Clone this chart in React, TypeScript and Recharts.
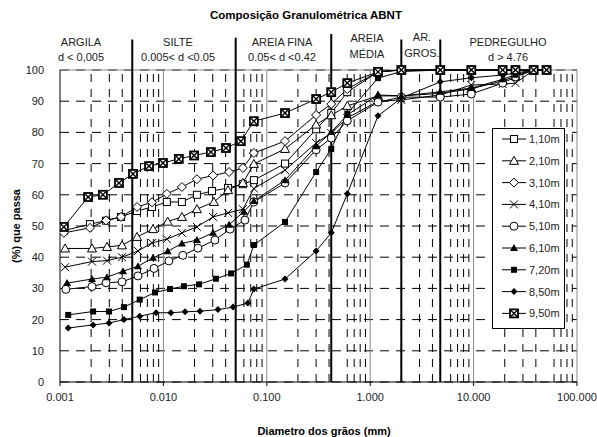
import React from 'react'
import { LineChart, Line, XAxis, YAxis, CartesianGrid, ReferenceLine } from 'recharts'

const FONT = '"Liberation Sans", Arial, sans-serif'

// sieve openings (mm), shared by every sample
const SIEVES = [0.075, 0.15, 0.3, 0.42, 0.6, 1.19, 2.0, 4.76, 9.5, 19.1, 25.4, 38.1, 50.8]

// hydrometer diameters (mm) and % passing, then % passing on the sieves
const D_110 = [0.00109, 0.00195, 0.00279, 0.00389, 0.00556, 0.00776, 0.0108, 0.0151, 0.0211, 0.0295, 0.0422, 0.0587]
const P_110 = [48.5, 50.6, 51.7, 52.9, 54.8, 56.1, 57.7, 57.7, 60.0, 61.2, 62.2, 63.4]
const S_110 = [64.7, 70.0, 81.0, 86.2, 92.9, 99.4, 100, 100, 100, 100, 100, 100, 100]

const D_210 = [0.00112, 0.00204, 0.00285, 0.00398, 0.00556, 0.00794, 0.011, 0.0151, 0.0211, 0.0308, 0.0422, 0.0587]
const P_210 = [42.8, 42.8, 43.3, 43.8, 46.5, 49.0, 51.4, 52.9, 55.4, 57.7, 61.5, 63.8]
const S_210 = [69.9, 74.7, 82.5, 85.5, 88.5, 91.7, 91.7, 92.5, 94.0, 96.5, 98.0, 100, 100]

const D_310 = [0.00109, 0.00195, 0.00279, 0.00389, 0.00556, 0.00776, 0.0108, 0.0151, 0.0211, 0.0302, 0.0432, 0.0587]
const P_310 = [47.8, 49.4, 51.8, 52.9, 56.1, 57.6, 60.3, 62.5, 65.0, 66.2, 67.3, 68.6]
const S_310 = [73.4, 77.2, 85.6, 89.1, 93.9, 99.4, 100, 100, 100, 100, 100, 100, 100]

const D_410 = [0.00112, 0.00204, 0.00285, 0.00398, 0.00568, 0.00776, 0.0108, 0.0151, 0.0211, 0.0302, 0.0422, 0.0587]
const P_410 = [36.8, 38.6, 38.9, 40.0, 42.0, 44.6, 45.8, 47.8, 49.7, 52.9, 54.2, 55.4]
const S_410 = [62.0, 67.9, 76.6, 79.8, 84.6, 90.0, 90.4, 92.0, 95.2, 95.5, 95.8, 100, 100]

const D_510 = [0.00114, 0.00204, 0.00279, 0.00398, 0.00568, 0.00812, 0.0113, 0.0154, 0.0216, 0.0315, 0.0442, 0.0614]
const P_510 = [29.7, 30.6, 31.8, 32.1, 34.0, 36.4, 38.8, 40.6, 42.9, 45.5, 49.0, 51.9]
const S_510 = [57.7, 63.8, 74.4, 78.2, 83.7, 89.7, 91.3, 91.3, 92.3, 95.8, 97.8, 100, 100]

const D_610 = [0.00117, 0.00204, 0.00285, 0.00407, 0.00568, 0.00794, 0.011, 0.0151, 0.0211, 0.0302, 0.0432, 0.06]
const P_610 = [31.7, 33.0, 33.6, 35.5, 37.1, 39.8, 41.9, 44.4, 45.5, 47.8, 50.4, 54.6]
const S_610 = [58.0, 64.7, 75.6, 80.1, 85.6, 92.0, 91.7, 93.0, 94.2, 97.0, 98.5, 100, 100]

const D_720 = [0.0012, 0.00209, 0.00298, 0.00416, 0.0059, 0.0083, 0.0116, 0.0158, 0.0221, 0.0322, 0.0451, 0.0642]
const P_720 = [21.5, 22.6, 22.6, 24.0, 26.4, 28.7, 29.8, 30.7, 31.3, 33.1, 34.8, 37.6]
const S_720 = [43.9, 51.3, 67.3, 74.7, 86.0, 97.4, 99.5, 100, 100, 100, 100, 100, 100]

const D_850 = [0.0012, 0.00209, 0.00298, 0.00416, 0.0059, 0.0085, 0.0118, 0.0162, 0.0226, 0.0337, 0.0472, 0.0656]
const P_850 = [17.3, 18.3, 18.9, 20.0, 21.1, 22.2, 22.2, 22.5, 22.7, 23.2, 24.0, 25.3]
const S_850 = [29.8, 33.0, 42.0, 47.8, 60.3, 85.3, 91.0, 96.2, 97.5, 98.4, 99.0, 100, 100]

const D_950 = [0.00109, 0.00187, 0.0026, 0.00372, 0.00508, 0.00726, 0.0099, 0.0141, 0.0198, 0.0288, 0.0403, 0.0561]
const P_950 = [49.7, 59.3, 60.0, 63.8, 66.7, 69.2, 70.2, 71.5, 72.6, 73.7, 75.0, 77.2]
const S_950 = [83.6, 86.2, 90.7, 92.9, 95.8, 99.4, 100, 100, 100, 100, 100, 100, 100]

const Y_TICKS = [0, 10, 20, 30, 40, 50, 60, 70, 80, 90, 100]
const X_TICKS = [0.001, 0.01, 0.1, 1, 10, 100]
const DECADES = [0.01, 0.1, 1, 10]
const MINOR = [0.001, 0.01, 0.1, 1, 10].flatMap((b) => [2, 3, 4, 6, 7, 8, 9].map((m) => +(b * m).toPrecision(3)))
// ABNT class limits (mm)
const LIMITS = [0.005, 0.05, 0.42, 2.0, 4.76]
const LIMIT_TOPS = [109.8, 110.3, 111.5, 109.8, 109.8]

const build = (hd: number[], hp: number[], sp: number[]) => [
  ...hd.map((d, i) => ({ d, p: hp[i] })),
  ...SIEVES.map((d, i) => ({ d, p: sp[i] })),
]

const SERIES = [
  { name: '1,10m', marker: 'square', data: build(D_110, P_110, S_110) },
  { name: '2,10m', marker: 'triangle', data: build(D_210, P_210, S_210) },
  { name: '3,10m', marker: 'diamond', data: build(D_310, P_310, S_310) },
  { name: '4,10m', marker: 'cross', data: build(D_410, P_410, S_410) },
  { name: '5,10m', marker: 'circle', data: build(D_510, P_510, S_510) },
  { name: '6,10m', marker: 'triangleFilled', data: build(D_610, P_610, S_610) },
  { name: '7,20m', marker: 'squareFilled', data: build(D_720, P_720, S_720) },
  { name: '8,50m', marker: 'diamondFilled', data: build(D_850, P_850, S_850) },
  { name: '9,50m', marker: 'boxCross', data: build(D_950, P_950, S_950) },
]

const Marker = ({ kind, cx, cy }: { kind: string; cx: number; cy: number }) => {
  switch (kind) {
    case 'square':
      return <rect x={cx - 3.5} y={cy - 3.5} width={7} height={7} fill="#fff" stroke="#000" />
    case 'triangle':
      return <polygon points={`${cx},${cy - 4.5} ${cx + 4.5},${cy + 3.5} ${cx - 4.5},${cy + 3.5}`} fill="#fff" stroke="#000" />
    case 'diamond':
      return <polygon points={`${cx},${cy - 4.5} ${cx + 4.5},${cy} ${cx},${cy + 4.5} ${cx - 4.5},${cy}`} fill="#fff" stroke="#000" />
    case 'cross':
      return (
        <g stroke="#000">
          <line x1={cx - 4} y1={cy - 4} x2={cx + 4} y2={cy + 4} />
          <line x1={cx - 4} y1={cy + 4} x2={cx + 4} y2={cy - 4} />
        </g>
      )
    case 'circle':
      return <circle cx={cx} cy={cy} r={4} fill="#fff" stroke="#000" />
    case 'triangleFilled':
      return <polygon points={`${cx},${cy - 4} ${cx + 4},${cy + 3} ${cx - 4},${cy + 3}`} fill="#000" />
    case 'squareFilled':
      return <rect x={cx - 3} y={cy - 3} width={6} height={6} fill="#000" />
    case 'diamondFilled':
      return <polygon points={`${cx},${cy - 3.5} ${cx + 3.5},${cy} ${cx},${cy + 3.5} ${cx - 3.5},${cy}`} fill="#000" />
    default:
      return (
        <g>
          <rect x={cx - 4} y={cy - 4} width={8} height={8} fill="#fff" stroke="#000" strokeWidth={1.8} />
          <line x1={cx - 3} y1={cy - 3} x2={cx + 3} y2={cy + 3} stroke="#000" strokeWidth={1.4} />
          <line x1={cx - 3} y1={cy + 3} x2={cx + 3} y2={cy - 3} stroke="#000" strokeWidth={1.4} />
        </g>
      )
  }
}

const HEADERS = [
  { x: 81, lines: ['ARGILA', 'd < 0,005'], y: [42, 57] },
  { x: 178, lines: ['SILTE', '0.005< d <0.05'], y: [42, 57] },
  { x: 282, lines: ['AREIA FINA', '0.05< d <0.42'], y: [42, 57] },
  { x: 367, lines: ['AREIA', 'MÉDIA'], y: [38, 54] },
  { x: 422, lines: ['AR.', 'GROS.'], y: [37, 53] },
  { x: 508, lines: ['PEDREGULHO', 'd > 4.76'], y: [42, 57] },
]

export default function App() {
  return (
    <div style={{ position: 'absolute', left: 0, top: 0, width: 597, height: 437, background: '#fff', fontFamily: FONT }}>
      <LineChart width={597} height={437} margin={{ top: 70, right: 20, bottom: 30, left: 20 }}>
        <CartesianGrid vertical={false} stroke="#000" strokeDasharray="9 7" horizontalValues={Y_TICKS} />
        {MINOR.map((v) => (
          <ReferenceLine key={`m${v}`} x={v} stroke="#000" strokeDasharray="8 7" />
        ))}
        {DECADES.map((v) => (
          <ReferenceLine key={`d${v}`} x={v} stroke="#888" />
        ))}
        <ReferenceLine y={100} stroke="#888" />
        <ReferenceLine x={100} stroke="#888" />
        <XAxis
          type="number"
          dataKey="d"
          scale="log"
          domain={[0.001, 100]}
          ticks={X_TICKS}
          allowDataOverflow
          tickFormatter={(v: number) => v.toFixed(3)}
          tick={{ fontSize: 11, fill: '#222', fontFamily: FONT }}
          axisLine={{ stroke: '#000' }}
          tickLine={{ stroke: '#000' }}
          tickSize={4}
          tickMargin={7}
          height={25}
        />
        <YAxis
          type="number"
          domain={[0, 100]}
          ticks={Y_TICKS}
          width={40}
          tick={{ fontSize: 11, fill: '#222', fontFamily: FONT }}
          axisLine={{ stroke: '#000' }}
          tickLine={false}
          tickMargin={10}
        />
        {LIMITS.map((v, i) => (
          <ReferenceLine
            key={`l${v}`}
            segment={[{ x: v, y: 0 }, { x: v, y: LIMIT_TOPS[i] }]}
            stroke="#000"
            strokeWidth={2}
            ifOverflow="visible"
          />
        ))}
        {SERIES.map((s) => (
          <Line
            key={s.name}
            data={s.data}
            dataKey="p"
            name={s.name}
            stroke="#000"
            strokeWidth={1}
            isAnimationActive={false}
            activeDot={false}
            dot={(props: any) => <Marker key={`${s.name}-${props.index}`} kind={s.marker} cx={props.cx} cy={props.cy} />}
          />
        ))}
      </LineChart>
      <svg width={597} height={437} style={{ position: 'absolute', left: 0, top: 0, pointerEvents: 'none' }} fontFamily={FONT}>
        <text x={306} y={19} textAnchor="middle" fontSize={11.5} fontWeight="bold" fill="#000">
          Composição Granulométrica ABNT
        </text>
        {HEADERS.map((h) =>
          h.lines.map((t, i) => (
            <text key={t} x={h.x} y={h.y[i] + 4} textAnchor="middle" fontSize={11} fill="#222">
              {t}
            </text>
          ))
        )}
        <text
          x={20}
          y={226}
          textAnchor="middle"
          fontSize={11}
          fontWeight="bold"
          fill="#000"
          transform="rotate(-90 20 226)"
        >
          (%) que passa
        </text>
        <text x={324} y={435} textAnchor="middle" fontSize={11} fontWeight="bold" fill="#000">
          Diametro dos grãos (mm)
        </text>
        <rect x={492.5} y={128.5} width={72} height={200} fill="#fff" stroke="#000" />
        {SERIES.map((s, i) => {
          const y = 139 + i * 21.8
          return (
            <g key={s.name}>
              <line x1={502} y1={y} x2={526} y2={y} stroke="#000" />
              <Marker kind={s.marker} cx={514} cy={y} />
              <text x={529} y={y + 4} fontSize={11} fill="#222">
                {s.name}
              </text>
            </g>
          )
        })}
      </svg>
    </div>
  )
}
